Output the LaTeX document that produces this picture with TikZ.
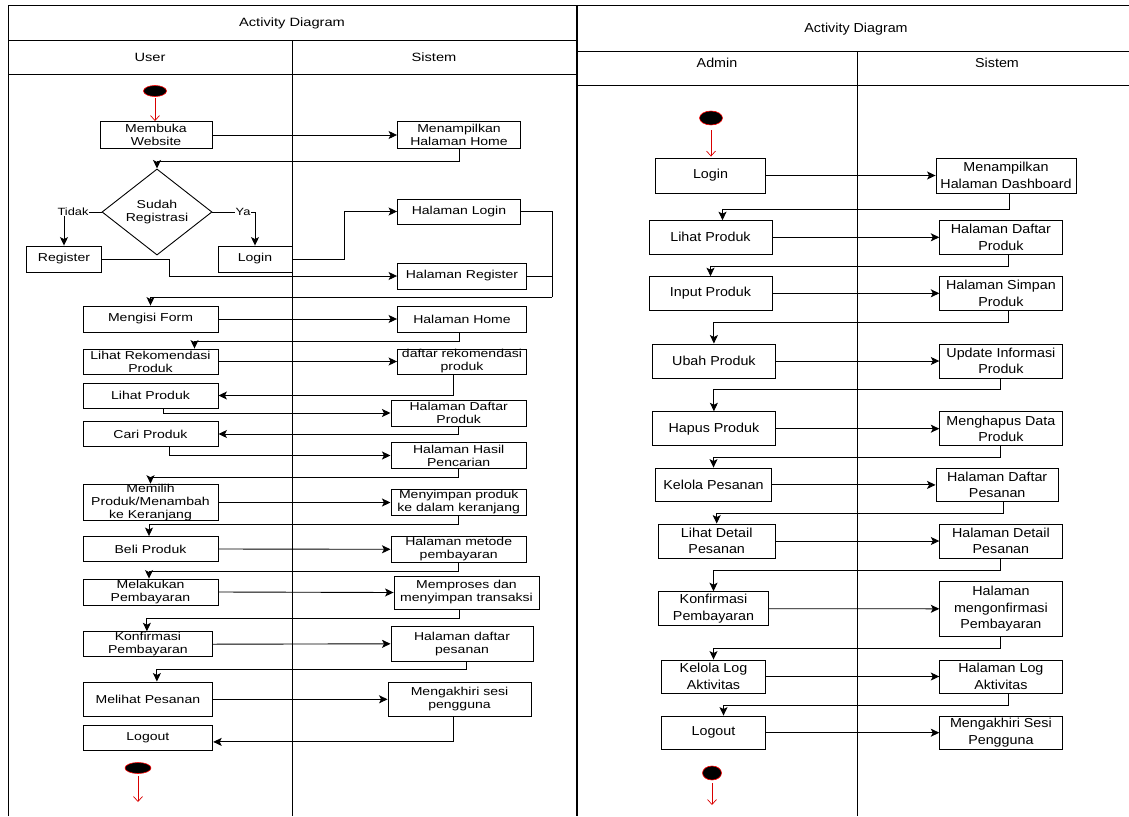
\documentclass[tikz,border=0pt]{standalone}
\usepackage{fontspec}
\setmainfont{Liberation Sans}
\newfontfamily\lfont{Liberation Sans}[FakeStretch=1.22]
\newfontfamily\rfont{Liberation Sans}[FakeStretch=1.1]
\usetikzlibrary{shapes.geometric,arrows.meta,calc}
\begin{document}
\begin{tikzpicture}[x=1pt,y=-1pt,
  sz/.style 2 args={minimum width=#1pt, minimum height=#2pt},
  lbox/.style={draw, line width=0.9pt, inner sep=0pt, align=center, font=\lfont\fontsize{11.5}{13}\selectfont},
  rbox/.style={draw, line width=0.9pt, inner sep=0pt, align=center, font=\rfont\fontsize{13}{16.5}\selectfont},
  ltxt/.style={inner sep=1pt, font=\lfont\fontsize{12}{14}\selectfont},
  rtxt/.style={inner sep=1pt, font=\rfont\fontsize{13}{15}\selectfont},
  lbl/.style={fill=white, inner sep=0.5pt, font=\lfont\fontsize{10.5}{12}\selectfont},
  arr/.style={line width=0.9pt, -{Stealth[length=8.5pt,width=8pt,inset=2pt]}},
  ln/.style={line width=0.9pt},
  frame/.style={line width=1pt},
  redarr/.style={draw=red!85!black, line width=0.7pt, -{Straight Barb[length=5pt,width=9pt]}},
  startnode/.style={ellipse, fill=black, draw=red, line width=0.6pt, inner sep=0pt},
  dec/.style={diamond, draw, line width=0.9pt, inner sep=0pt, align=center, font=\lfont\fontsize{11.5}{13}\selectfont}
]
\useasboundingbox (0,0) rectangle (1129,816);

% ---------------- left frame ----------------
\draw[frame] (8,816) -- (8,6) -- (576,6) -- (576,816);
\draw[frame] (8,40.7) -- (576,40.7);
\draw[frame] (8,74) -- (576,74);
\draw[frame] (292,40.7) -- (292,816);
\node[ltxt] (lt) at (292,23) {Activity Diagram};
\node[ltxt] (lu) at (150,57.5) {User};
\node[ltxt] (ls) at (434,57.5) {Sistem};

% ---------------- right frame ----------------
\draw[frame] (577,816) -- (577,6) -- (1129,6);
\draw[frame] (577,51.7) -- (1129,51.7);
\draw[frame] (577,85) -- (1129,85);
\draw[frame] (857,51.7) -- (857,816);
\node[rtxt] (rt) at (856,29) {Activity Diagram};
\node[rtxt] (ra) at (717,63) {Admin};
\node[rtxt] (rsi) at (997,63) {Sistem};

% ---------------- left nodes ----------------
\node[startnode, sz={23}{11}] (s1) at (155,91) {};
\node[lbox, sz={112}{27}] (mw) at (156,135) {Membuka\\Website};
\node[lbox, sz={123}{27}] (mh) at (459,135) {Menampilkan\\Halaman Home};
\node[dec, sz={110}{51}] (dia) at (157,212) {Sudah\\Registrasi};
\node[lbox, sz={75}{26}] (reg) at (64,259) {Register};
\node[lbox, sz={74}{26}] (lg) at (255,259) {Login};
\node[lbox, sz={123}{25}] (hl) at (459,211.5) {Halaman Login};
\node[lbox, sz={129}{26}] (hr) at (462,276) {Halaman Register};
\node[lbox, sz={135}{26}] (mf) at (150.5,319) {Mengisi Form};
\node[lbox, sz={129}{26}] (hh) at (462,319) {Halaman Home};
\node[lbox, sz={135}{25}] (lr) at (150.5,361.5) {Lihat Rekomendasi\\Produk};
\node[lbox, sz={129}{25}] (dr) at (462,361.5) {daftar rekomendasi\\produk};
\node[lbox, sz={135}{25}] (lp) at (150.5,395.5) {Lihat Produk};
\node[lbox, sz={135.5}{26}] (hdp) at (458.7,413) {Halaman Daftar\\Produk};
\node[lbox, sz={135}{25}] (cp) at (150.5,434) {Cari Produk};
\node[lbox, sz={135.5}{26}] (hhp) at (458.7,455.5) {Halaman Hasil\\Pencarian};
\node[lbox, sz={135}{35}] (mp) at (150.5,502.5) {Memilih\\Produk/Menambah\\ke Keranjang};
\node[lbox, sz={135.5}{26}] (mk) at (458.7,502.5) {Menyimpan produk\\ke dalam keranjang};
\node[lbox, sz={135}{25}] (bp) at (150.5,549) {Beli Produk};
\node[lbox, sz={135.5}{26}] (hm) at (458.7,549.3) {Halaman metode\\pembayaran};
\node[lbox, sz={135}{26}] (ml) at (150.5,592) {Melakukan\\Pembayaran};
\node[lbox, sz={145}{33}] (mpr) at (466.5,592.5) {Memproses dan\\menyimpan transaksi};
\node[lbox, sz={129.7}{25}] (kp) at (147.9,644.2) {Konfirmasi\\Pembayaran};
\node[lbox, sz={142}{34.3}] (hdps) at (462,643.8) {Halaman daftar\\pesanan};
\node[lbox, sz={129.7}{34.7}] (mlp) at (147.9,699.3) {Melihat Pesanan};
\node[lbox, sz={143}{34.7}] (ms) at (459.5,699.3) {Mengakhiri sesi\\pengguna};
\node[lbox, sz={129.7}{25.7}] (lo) at (147.9,737.9) {Logout};
\node[startnode, sz={26}{11}] (e1) at (138,768) {};
\coordinate (e1end) at (138,802);

% ---------------- left connectors ----------------
\draw[redarr] ($(s1.south)+(0,1.5)$) -- (s1.south |- mw.north);
\draw[arr] (mw.east) -- (mh.west);
\draw[arr] (mh.south) -- ++(0,12.5) -| (dia.north);
\draw[arr] (dia.west) -| (reg.north) node[lbl, pos=0.38] {Tidak};
\draw[arr] (dia.east) -| (lg.north) node[lbl, pos=0.36] {Ya};
\draw[arr] (lg.east) -- ++(51.6,0) |- (hl.west);
\draw[arr] (reg.east) -- ++(67.7,0) |- (hr.west);
\coordinate (j1) at (552,297);
\draw[ln] (hl.east) -| (j1);
\draw[ln] (hr.east) -- (hr.east -| j1);
\draw[arr] (j1) -| (mf.north);
\draw[arr] (mf.east) -- (hh.west);
\draw[arr] ($(hh.south)+(-3,0)$) -- ++(0,9) -| ($(lr.north)+(44,0)$);
\draw[arr] (lr.east) -- (dr.west);
\draw[arr] ($(dr.south)+(-8.5,0)$) |- (lp.east);
\draw[arr] ($(lp.south)+(12.5,0)$) |- (hdp.west);
\draw[arr] (hdp.south) |- (cp.east);
\draw[arr] ($(cp.south)+(18.5,0)$) |- (hhp.west);
\draw[arr] (hhp.south) -- ++(0,8.5) -| (mp.north);
\draw[arr] (mp.east) -- (mk.west);
\draw[arr] (mk.south) -- ++(0,8) -| ($(bp.north)+(-1.5,0)$);
\draw[arr] (bp.east) -- (hm.west);
\draw[arr] (hm.south) -- ++(0,8.7) -| ($(ml.north)+(-1.5,0)$);
\draw[arr] (ml.east) -- (mpr.west);
\draw[arr] ($(mpr.south)+(-7.5,0)$) -- ++(0,9) -| ($(kp.north)+(-1,0)$);
\draw[arr] (kp.east) -- (hdps.west);
\draw[arr] ($(hdps.south)+(4.5,0)$) -- ++(0,8) -| ($(mlp.north)+(9,0)$);
\draw[arr] (mlp.east) -- (ms.west);
\draw[arr] ($(ms.south)+(-6,0)$) |- ($(lo.east)+(0,4)$);
\draw[redarr] ($(e1.south)+(0,2)$) -- (e1end);

% ---------------- right nodes ----------------
\node[startnode, sz={23}{14}] (rs) at (711,118) {};
\node[rbox, sz={110}{35}] (rlogin) at (710.5,175.5) {Login};
\node[rbox, sz={140}{35}] (rmd) at (1006,175.5) {Menampilkan\\Halaman Dashboard};
\node[rbox, sz={123}{33.3}] (rlp) at (710.5,237.3) {Lihat Produk};
\node[rbox, sz={122.3}{33.3}] (rhdp) at (1000.9,237.3) {Halaman Daftar\\Produk};
\node[rbox, sz={123}{33.3}] (rip) at (710.5,293.3) {Input Produk};
\node[rbox, sz={122.3}{33.3}] (rhsp) at (1000.9,293.3) {Halaman Simpan\\Produk};
\node[rbox, sz={122.3}{34}] (rup) at (713.9,361) {Ubah Produk};
\node[rbox, sz={122.3}{34}] (ruip) at (1000.9,361) {Update Informasi\\Produk};
\node[rbox, sz={122.3}{34}] (rhap) at (713.9,428.7) {Hapus Produk};
\node[rbox, sz={122.3}{34}] (rmdp) at (1000.9,428.7) {Menghapus Data\\Produk};
\node[rbox, sz={115.8}{33.7}] (rkp) at (713.5,484.9) {Kelola Pesanan};
\node[rbox, sz={122.4}{33.7}] (rhdpe) at (997.2,484.9) {Halaman Daftar\\Pesanan};
\node[rbox, sz={116.6}{34}] (rldp) at (716.7,541) {Lihat Detail\\Pesanan};
\node[rbox, sz={122.3}{34}] (rhdet) at (1000.9,541) {Halaman Detail\\Pesanan};
\node[rbox, sz={110.2}{34}] (rkfp) at (713.5,608.7) {Konfirmasi\\Pembayaran};
\node[rbox, sz={122.3}{55.7}] (rhmp) at (1000.9,608.8) {Halaman\\mengonfirmasi\\Pembayaran};
\node[rbox, sz={103.8}{33}] (rkla) at (713.5,676.5) {Kelola Log\\Aktivitas};
\node[rbox, sz={122.3}{33}] (rhla) at (1000.9,676.5) {Halaman Log\\Aktivitas};
\node[rbox, sz={103.8}{33.3}] (rlo) at (713.5,732.7) {Logout};
\node[rbox, sz={122.3}{33.3}] (rmsp) at (1000.9,732.7) {Mengakhiri Sesi\\Pengguna};
\node[startnode, sz={19}{14}] (re) at (712,773) {};
\coordinate (reend) at (712,805);

% ---------------- right connectors ----------------
\draw[redarr] ($(rs.south)+(0,5)$) -- ($(rs.south |- rlogin.north)+(0,-1)$);
\draw[arr] (rlogin.east) -- (rmd.west);
\draw[arr] ($(rmd.south)+(3,0)$) -- ++(0,16) -| ($(rlp.north)+(12,0)$);
\draw[arr] (rlp.east) -- (rhdp.west);
\draw[arr] ($(rhdp.south)+(8,0)$) -- ++(0,11.7) -| (rip.north);
\draw[arr] (rip.east) -- (rhsp.west);
\draw[arr] ($(rhsp.south)+(8,0)$) -- ++(0,11.7) -| (rup.north);
\draw[arr] (rup.east) -- (ruip.west);
\draw[arr] (ruip.south) -- ++(0,11) -| (rhap.north);
\draw[arr] (rhap.east) -- (rmdp.west);
\draw[arr] (rmdp.south) -- ++(0,11) -| (rkp.north);
\draw[arr] (rkp.east) -- (rhdpe.west);
\draw[arr] ($(rhdpe.south)+(6.7,0)$) -- ++(0,11.3) -| (rldp.north);
\draw[arr] (rldp.east) -- (rhdet.west);
\draw[arr] (rhdet.south) -- ++(0,12) -| (rkfp.north);
\draw[arr] (rkfp.east) -- (rhmp.west);
\draw[arr] (rhmp.south) -- ++(0,11.3) -| (rkla.north);
\draw[arr] (rkla.east) -- (rhla.west);
\draw[arr] ($(rhla.south)+(8,0)$) -- ++(0,12) -| ($(rlo.north)+(10,0)$);
\draw[arr] (rlo.east) -- (rmsp.west);
\draw[redarr] ($(re.south)+(0,3)$) -- (reend);
\end{tikzpicture}
\end{document}
